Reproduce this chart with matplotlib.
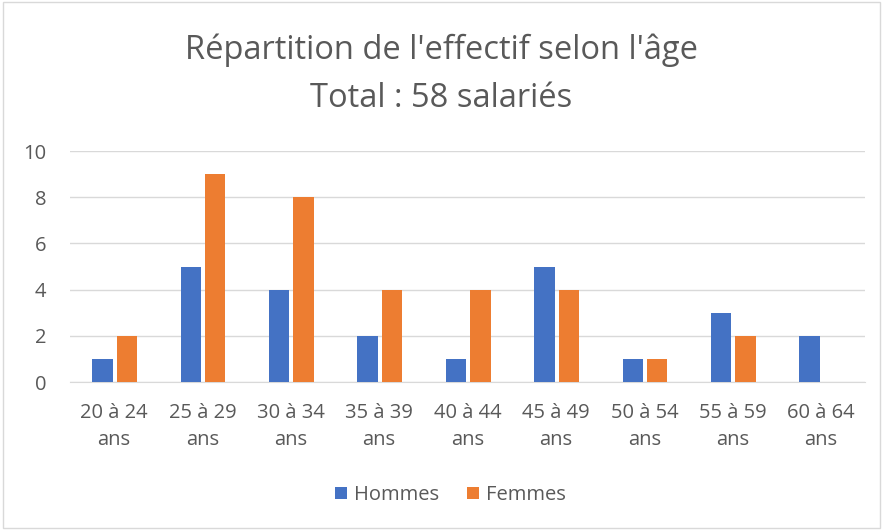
import matplotlib.pyplot as plt
import numpy as np

categories = ["20 à 24\nans", "25 à 29\nans", "30 à 34\nans", "35 à 39\nans", "40 à 44\nans",
              "45 à 49\nans", "50 à 54\nans", "55 à 59\nans", "60 à 64\nans"]
hommes = [1, 5, 4, 2, 1, 5, 1, 3, 2]
femmes = [2, 9, 8, 4, 4, 4, 1, 2, 0]

BLUE = "#4472C4"
ORANGE = "#ED7D31"
TEXT = "#595959"

plt.rcParams["font.family"] = ["Open Sans", "DejaVu Sans"]

fig = plt.figure(figsize=(8.83, 5.30), dpi=100)
ax = fig.add_axes([0.079, 0.279, 0.901, 0.436])

x = np.arange(len(categories))
w = 0.23
ax.bar(x - 0.13, hommes, w, color=BLUE, label="Hommes", zorder=3)
ax.bar(x + 0.145, femmes, w, color=ORANGE, label="Femmes", zorder=3)

ax.set_xlim(-0.5, len(categories) - 0.5)
ax.set_ylim(0, 10)
ax.set_yticks(range(0, 11, 2))
ax.set_xticks(x)
ax.set_xticklabels(categories, fontsize=14.5, color=TEXT, linespacing=1.5)
ax.tick_params(axis="y", labelsize=14.5, colors=TEXT, length=0, pad=17)
ax.tick_params(axis="x", length=0, pad=15)
ax.grid(axis="y", color="#D9D9D9", linewidth=1, zorder=0)
for s in ["top", "right", "left"]:
    ax.spines[s].set_visible(False)
ax.spines["bottom"].set_color("#D9D9D9")

fig.text(0.5, 0.905, "Répartition de l'effectif selon l'âge", ha="center", va="center",
         fontsize=23.5, color=TEXT)
fig.text(0.5, 0.815, "Total : 58 salariés", ha="center", va="center",
         fontsize=23.5, color=TEXT)

fig.legend(loc="center", bbox_to_anchor=(0.51, 0.066), ncol=2, frameon=False,
           fontsize=14.5, labelcolor=TEXT, handlelength=0.6, handleheight=0.6,
           columnspacing=1.4, handletextpad=0.35)

fig.patches.append(plt.Rectangle((0.003, 0.003), 0.994, 0.994, transform=fig.transFigure,
                                 fill=False, edgecolor="#D9D9D9", linewidth=1))

fig.savefig("out.png", dpi=100)
